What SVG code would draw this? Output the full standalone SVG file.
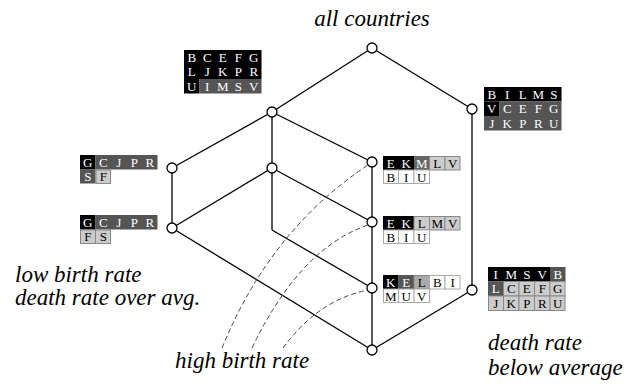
<svg xmlns="http://www.w3.org/2000/svg" width="642" height="384" viewBox="0 0 642 384">
<style>
.bg{fill:#fff}
.e{stroke:#000;stroke-width:1.3;fill:none}
.ds{stroke:#444;stroke-width:1;fill:none;stroke-dasharray:5,3}
.n{fill:#fff;stroke:#000;stroke-width:1.3}
.k{fill:#000}
.d{fill:#555}
.d2{fill:#666}
.m{fill:#aaa;stroke:#888;stroke-width:1}
.l{fill:#ccc;stroke:#888;stroke-width:1}
.w{fill:#fff;stroke:#aaa;stroke-width:1}
.c text{font-family:"Liberation Serif",serif;font-size:13px;text-anchor:middle}
.tw{fill:#fff}
.tb{fill:#000}
.lab{font-family:"Liberation Serif",serif;font-size:23px;font-style:italic;fill:#000}
</style>
<rect class="bg" x="0" y="0" width="642" height="384"/>
<g id="connectors">
<line class="e" x1="372" y1="48" x2="272" y2="112"/>
<line class="e" x1="372" y1="48" x2="472" y2="109"/>
<line class="e" x1="272" y1="112" x2="172" y2="168"/>
<line class="e" x1="272" y1="112" x2="272" y2="168"/>
<line class="e" x1="272" y1="112" x2="372" y2="162"/>
<line class="e" x1="172" y1="168" x2="172" y2="228"/>
<line class="e" x1="272" y1="168" x2="172" y2="228"/>
<line class="e" x1="272" y1="168" x2="372" y2="222"/>
<line class="e" x1="272" y1="168" x2="272" y2="230"/>
<line class="e" x1="272" y1="230" x2="372" y2="288"/>
<line class="e" x1="372" y1="162" x2="372" y2="350"/>
<line class="e" x1="172" y1="228" x2="372" y2="350"/>
<line class="e" x1="472" y1="109" x2="472" y2="290"/>
<line class="e" x1="472" y1="290" x2="372" y2="350"/>
<path class="ds" d="M222,348 Q270,230 368,165"/>
<path class="ds" d="M252,348 Q300,248 368,225"/>
<path class="ds" d="M283,348 Q318,300 368,290"/>
</g>
<g id="n0"><circle class="n" cx="372" cy="48" r="5"/></g>
<g id="n1"><circle class="n" cx="272" cy="112" r="5"/></g>
<g id="n2"><circle class="n" cx="472" cy="109" r="5"/></g>
<g id="n3"><circle class="n" cx="172" cy="168" r="5"/></g>
<g id="n4"><circle class="n" cx="272" cy="168" r="5"/></g>
<g id="n5"><circle class="n" cx="372" cy="162" r="5"/></g>
<g id="n6"><circle class="n" cx="172" cy="228" r="5"/></g>
<g id="n7"><circle class="n" cx="372" cy="222" r="5"/></g>
<g id="n8"><circle class="n" cx="372" cy="288" r="5"/></g>
<g id="n9"><circle class="n" cx="372" cy="350" r="5"/></g>
<g id="n10"><circle class="n" cx="472" cy="290" r="5"/></g>

<g id="boxA" class="c" transform="translate(184,50)">
<rect class="k" x="0" y="0" width="77.5" height="29"/>
<rect class="k" x="0" y="29" width="15.5" height="14.5"/>
<rect class="d" x="15.5" y="29" width="62" height="14.5"/>
<text class="tw" x="7.75" y="11.5">B</text><text class="tw" x="23.25" y="11.5">C</text><text class="tw" x="38.75" y="11.5">E</text><text class="tw" x="54.25" y="11.5">F</text><text class="tw" x="69.75" y="11.5">G</text>
<text class="tw" x="7.75" y="26">L</text><text class="tw" x="23.25" y="26">J</text><text class="tw" x="38.75" y="26">K</text><text class="tw" x="54.25" y="26">P</text><text class="tw" x="69.75" y="26">R</text>
<text class="tw" x="7.75" y="40.5">U</text><text class="tw" x="23.25" y="40.5">I</text><text class="tw" x="38.75" y="40.5">M</text><text class="tw" x="54.25" y="40.5">S</text><text class="tw" x="69.75" y="40.5">V</text>
</g>

<g id="boxB" class="c" transform="translate(484,87)">
<rect class="k" x="0" y="0" width="77.5" height="14.5"/>
<rect class="k" x="0" y="14.5" width="15.5" height="14.5"/>
<rect class="d" x="15.5" y="14.5" width="62" height="14.5"/>
<rect class="d" x="0" y="29" width="77.5" height="14.5"/>
<text class="tw" x="7.75" y="11.5">B</text><text class="tw" x="23.25" y="11.5">I</text><text class="tw" x="38.75" y="11.5">L</text><text class="tw" x="54.25" y="11.5">M</text><text class="tw" x="69.75" y="11.5">S</text>
<text class="tw" x="7.75" y="26">V</text><text class="tw" x="23.25" y="26">C</text><text class="tw" x="38.75" y="26">E</text><text class="tw" x="54.25" y="26">F</text><text class="tw" x="69.75" y="26">G</text>
<text class="tw" x="7.75" y="40.5">J</text><text class="tw" x="23.25" y="40.5">K</text><text class="tw" x="38.75" y="40.5">P</text><text class="tw" x="54.25" y="40.5">R</text><text class="tw" x="69.75" y="40.5">U</text>
</g>

<g id="boxC" class="c" transform="translate(80,155)">
<rect class="k" x="0" y="0" width="15.5" height="14.5"/>
<rect class="d" x="15.5" y="0" width="62" height="14.5"/>
<rect class="d" x="0" y="14.5" width="15.5" height="14"/>
<rect class="l" x="16" y="15" width="14.5" height="13.5"/>
<text class="tw" x="7.75" y="11.5">G</text><text class="tw" x="23.25" y="11.5">C</text><text class="tw" x="38.75" y="11.5">J</text><text class="tw" x="54.25" y="11.5">P</text><text class="tw" x="69.75" y="11.5">R</text>
<text class="tw" x="7.75" y="26">S</text><text class="tb" x="23.25" y="26">F</text>
</g>

<g id="boxD" class="c" transform="translate(80,215)">
<rect class="k" x="0" y="0" width="15.5" height="14.5"/>
<rect class="d" x="15.5" y="0" width="62" height="14.5"/>
<rect class="l" x="0.5" y="15" width="15" height="13.5"/>
<rect class="l" x="15.5" y="15" width="15" height="13.5"/>
<text class="tw" x="7.75" y="11.5">G</text><text class="tw" x="23.25" y="11.5">C</text><text class="tw" x="38.75" y="11.5">J</text><text class="tw" x="54.25" y="11.5">P</text><text class="tw" x="69.75" y="11.5">R</text>
<text class="tb" x="7.75" y="26">F</text><text class="tb" x="23.25" y="26">S</text>
</g>

<g id="boxE" class="c" transform="translate(383,156)">
<rect class="k" x="0" y="0" width="31" height="14"/>
<rect class="d2" x="31" y="0" width="15.5" height="14"/>
<rect class="l" x="46.5" y="0.5" width="15.5" height="13.5"/>
<rect class="l" x="62" y="0.5" width="15" height="13.5"/>
<rect class="w" x="0.5" y="14" width="15" height="13.5"/>
<rect class="w" x="15.5" y="14" width="15.5" height="13.5"/>
<rect class="w" x="31" y="14" width="15.5" height="13.5"/>
<text class="tw" x="7.75" y="11.5">E</text><text class="tw" x="23.25" y="11.5">K</text><text class="tw" x="38.75" y="11.5">M</text><text class="tb" x="54.25" y="11.5">L</text><text class="tb" x="69.75" y="11.5">V</text>
<text class="tb" x="7.75" y="25.5">B</text><text class="tb" x="23.25" y="25.5">I</text><text class="tb" x="38.75" y="25.5">U</text>
</g>

<g id="boxF" class="c" transform="translate(383,216)">
<rect class="k" x="0" y="0" width="31" height="14"/>
<rect class="l" x="31" y="0.5" width="15.5" height="13.5"/>
<rect class="l" x="46.5" y="0.5" width="15.5" height="13.5"/>
<rect class="l" x="62" y="0.5" width="15" height="13.5"/>
<rect class="w" x="0.5" y="14" width="15" height="13.5"/>
<rect class="w" x="15.5" y="14" width="15.5" height="13.5"/>
<rect class="w" x="31" y="14" width="15.5" height="13.5"/>
<text class="tw" x="7.75" y="11.5">E</text><text class="tw" x="23.25" y="11.5">K</text><text class="tb" x="38.75" y="11.5">L</text><text class="tb" x="54.25" y="11.5">M</text><text class="tb" x="69.75" y="11.5">V</text>
<text class="tb" x="7.75" y="25.5">B</text><text class="tb" x="23.25" y="25.5">I</text><text class="tb" x="38.75" y="25.5">U</text>
</g>

<g id="boxG" class="c" transform="translate(383,275)">
<rect class="k" x="0" y="0" width="15.5" height="14"/>
<rect class="d" x="15.5" y="0" width="15.5" height="14"/>
<rect class="m" x="31" y="0.5" width="15.5" height="13.5"/>
<rect class="w" x="46.5" y="0.5" width="15.5" height="13.5"/>
<rect class="w" x="62" y="0.5" width="15" height="13.5"/>
<rect class="w" x="0.5" y="14" width="15" height="13.5"/>
<rect class="w" x="15.5" y="14" width="15.5" height="13.5"/>
<rect class="w" x="31" y="14" width="15.5" height="13.5"/>
<text class="tw" x="7.75" y="11.5">K</text><text class="tw" x="23.25" y="11.5">E</text><text class="tb" x="38.75" y="11.5">L</text><text class="tb" x="54.25" y="11.5">B</text><text class="tb" x="69.75" y="11.5">I</text>
<text class="tb" x="7.75" y="25.5">M</text><text class="tb" x="23.25" y="25.5">U</text><text class="tb" x="38.75" y="25.5">V</text>
</g>

<g id="boxH" class="c" transform="translate(488,267)">
<rect class="k" x="0" y="0" width="62" height="14.5"/>
<rect class="d" x="62" y="0" width="15.5" height="14.5"/>
<rect class="d" x="0" y="14.5" width="15.5" height="14.5"/>
<rect class="l" x="15.5" y="14.5" width="15.5" height="14.5"/>
<rect class="l" x="31" y="14.5" width="15.5" height="14.5"/>
<rect class="l" x="46.5" y="14.5" width="15.5" height="14.5"/>
<rect class="l" x="62" y="14.5" width="15" height="14.5"/>
<rect class="l" x="0.5" y="29" width="15" height="14.5"/>
<rect class="l" x="15.5" y="29" width="15.5" height="14.5"/>
<rect class="l" x="31" y="29" width="15.5" height="14.5"/>
<rect class="l" x="46.5" y="29" width="15.5" height="14.5"/>
<rect class="l" x="62" y="29" width="15" height="14.5"/>
<text class="tw" x="7.75" y="11.5">I</text><text class="tw" x="23.25" y="11.5">M</text><text class="tw" x="38.75" y="11.5">S</text><text class="tw" x="54.25" y="11.5">V</text><text class="tw" x="69.75" y="11.5">B</text>
<text class="tw" x="7.75" y="26">L</text><text class="tb" x="23.25" y="26">C</text><text class="tb" x="38.75" y="26">E</text><text class="tb" x="54.25" y="26">F</text><text class="tb" x="69.75" y="26">G</text>
<text class="tb" x="7.75" y="40.5">J</text><text class="tb" x="23.25" y="40.5">K</text><text class="tb" x="38.75" y="40.5">P</text><text class="tb" x="54.25" y="40.5">R</text><text class="tb" x="69.75" y="40.5">U</text>
</g>

<g id="labels">
<text class="lab" x="372" y="26" text-anchor="middle">all countries</text>
<text class="lab" x="15" y="282">low birth rate</text>
<text class="lab" x="15" y="305">death rate over avg.</text>
<text class="lab" x="175" y="368">high birth rate</text>
<text class="lab" x="488" y="350">death rate</text>
<text class="lab" x="488" y="375">below average</text>
</g>
</svg>
